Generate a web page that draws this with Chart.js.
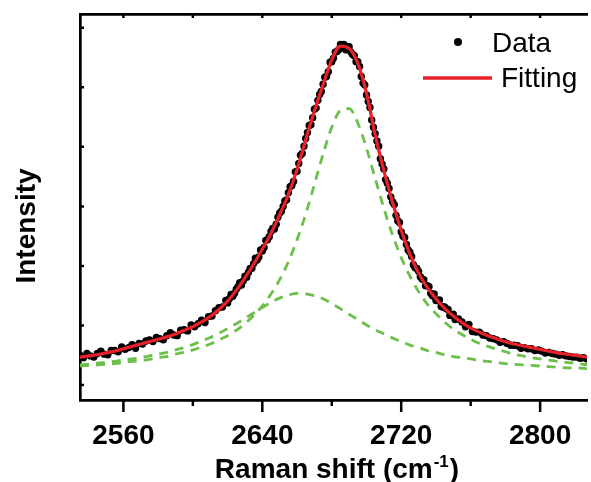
<!DOCTYPE html>
<html>
<head>
<meta charset="utf-8">
<script src="https://cdn.jsdelivr.net/npm/chart.js@4.4.1/dist/chart.umd.min.js"></script>
<style>
  html, body { margin: 0; padding: 0; background: #fff; }
  canvas { display: block; }
</style>
</head>
<body>
<canvas id="ramanChart" width="591" height="482"></canvas>
<script>
// ===============================
// DATA
// ===============================
// measured spectrum, 2D band (finer step across the peak)
const shift = [
  2535, 2537, 2539, 2541, 2543, 2545, 2547, 2549, 2551, 2553,
  2555, 2557, 2559, 2561, 2563, 2565, 2567, 2569, 2571, 2573,
  2575, 2577, 2579, 2581, 2583, 2585, 2587, 2589, 2591, 2593,
  2595, 2597, 2599, 2601, 2603, 2605, 2607, 2609, 2611, 2613,
  2615, 2617,
  2619, 2620, 2621, 2622, 2623, 2624, 2625, 2626, 2627, 2628,
  2629, 2630, 2631, 2632, 2633, 2634, 2635, 2636, 2637, 2638,
  2639, 2640, 2641, 2642, 2643, 2644, 2645, 2646, 2647, 2648,
  2649, 2650, 2651, 2652, 2653, 2654, 2655, 2656, 2657, 2658,
  2659, 2660, 2661, 2662, 2663, 2664, 2665, 2666, 2667, 2668,
  2669, 2670, 2671, 2672, 2673, 2674, 2675, 2676, 2677, 2678,
  2679, 2680, 2681, 2682, 2683, 2684, 2685, 2686, 2687, 2688,
  2689, 2690, 2691, 2692, 2693, 2694, 2695, 2696, 2697, 2698,
  2699, 2700, 2701, 2702, 2703, 2704, 2705, 2706, 2707, 2708,
  2709, 2710, 2711, 2712, 2713, 2714, 2715, 2716, 2717, 2718,
  2719, 2720, 2721, 2722, 2723, 2724, 2725, 2726, 2727, 2728,
  2729, 2730, 2731, 2732, 2733, 2734, 2735, 2736, 2737, 2738,
  2739, 2740, 2741, 2742, 2743, 2744, 2745, 2746, 2747, 2748,
  2749, 2750, 2751,
  2753, 2755, 2757, 2759, 2761, 2763, 2765, 2767, 2769, 2771,
  2773, 2775, 2777, 2779, 2781, 2783, 2785, 2787, 2789, 2791,
  2793, 2795, 2797, 2799, 2801, 2803, 2805, 2807, 2809, 2811,
  2813, 2815, 2817, 2819, 2821, 2823, 2825, 2827, 2829
];
const intensity = [
  0.50, 0.46, 0.53, 0.49, 0.47, 0.53, 0.57, 0.52, 0.51, 0.58,
  0.58, 0.56, 0.64, 0.60, 0.63, 0.68, 0.62, 0.70, 0.69, 0.74,
  0.76, 0.73, 0.80, 0.78, 0.76, 0.83, 0.88, 0.84, 0.83, 0.92,
  0.93, 0.91, 1.01, 0.98, 1.03, 1.09, 1.05, 1.15, 1.16, 1.25,
  1.30, 1.31,
  1.42, 1.38, 1.45, 1.52, 1.49, 1.54, 1.61, 1.65, 1.72, 1.68,
  1.75, 1.83, 1.81, 1.89, 1.96, 1.96, 2.04, 2.13, 2.10, 2.15,
  2.27, 2.25, 2.31, 2.43, 2.44, 2.49, 2.58, 2.63, 2.62, 2.70,
  2.82, 2.89, 2.92, 3.00, 3.09, 3.11, 3.23, 3.33, 3.35, 3.42,
  3.58, 3.59, 3.72, 3.86, 3.89, 4.01, 4.14, 4.24, 4.36, 4.37,
  4.49, 4.63, 4.65, 4.78, 4.88, 4.93, 5.05, 5.17, 5.18, 5.26,
  5.42, 5.43, 5.49, 5.59, 5.60, 5.63, 5.72, 5.70, 5.72, 5.63,
  5.68, 5.68, 5.59, 5.55, 5.53, 5.43, 5.43, 5.35, 5.18, 5.07,
  5.04, 4.87, 4.76, 4.66, 4.45, 4.33, 4.22, 4.10, 4.01, 3.80,
  3.71, 3.63, 3.45, 3.39, 3.30, 3.16, 3.08, 3.03, 2.85, 2.76,
  2.73, 2.57, 2.50, 2.48, 2.36, 2.27, 2.23, 2.16, 2.02, 1.97,
  1.96, 1.91, 1.82, 1.78, 1.77, 1.67, 1.67, 1.65, 1.54, 1.50,
  1.53, 1.42, 1.42, 1.43, 1.32, 1.31, 1.31, 1.28, 1.27, 1.17,
  1.18, 1.19, 1.10,
  1.11, 1.06, 0.98, 1.02, 0.90, 0.89, 0.89, 0.84, 0.83, 0.79,
  0.78, 0.76, 0.72, 0.73, 0.70, 0.67, 0.67, 0.66, 0.62, 0.63,
  0.61, 0.61, 0.58, 0.59, 0.57, 0.54, 0.55, 0.53, 0.52, 0.50,
  0.51, 0.49, 0.48, 0.47, 0.47, 0.45, 0.46, 0.44, 0.44
];

// fitted curves (total + two Lorentzian components)
const fitX = [
  2535, 2540, 2545, 2550, 2555, 2560, 2565, 2570, 2575, 2580,
  2585, 2590, 2595, 2600, 2605, 2610, 2615, 2620, 2625, 2630,
  2635, 2640, 2645, 2650, 2655, 2660, 2665, 2670, 2675, 2680,
  2685, 2690, 2695, 2700, 2705, 2710, 2715, 2720, 2725, 2730,
  2735, 2740, 2745, 2750, 2755, 2760, 2765, 2770, 2775, 2780,
  2785, 2790, 2795, 2800, 2805, 2810, 2815, 2820, 2825, 2830
];
const fitTotal = [
  0.47, 0.49, 0.51, 0.54, 0.57, 0.61, 0.65, 0.69, 0.73, 0.77,
  0.81, 0.86, 0.92, 0.98, 1.06, 1.15, 1.27, 1.41, 1.59, 1.80,
  2.03, 2.28, 2.55, 2.86, 3.20, 3.62, 4.12, 4.60, 5.04, 5.46,
  5.69, 5.65, 5.40, 4.90, 4.20, 3.60, 3.07, 2.60, 2.20, 1.88,
  1.64, 1.45, 1.29, 1.16, 1.05, 0.96, 0.89, 0.83, 0.78, 0.73,
  0.69, 0.66, 0.63, 0.60, 0.57, 0.54, 0.52, 0.50, 0.48, 0.46
];
const fitPeak1 = [
  0.32, 0.33, 0.34, 0.35, 0.36, 0.38, 0.40, 0.41, 0.43, 0.46,
  0.48, 0.52, 0.55, 0.59, 0.64, 0.69, 0.76, 0.83, 0.92, 1.03,
  1.17, 1.33, 1.53, 1.77, 2.07, 2.44, 2.87, 3.37, 3.88, 4.33,
  4.61, 4.64, 4.40, 3.98, 3.47, 2.97, 2.52, 2.14, 1.83, 1.57,
  1.36, 1.20, 1.06, 0.94, 0.85, 0.77, 0.70, 0.65, 0.60, 0.56,
  0.52, 0.49, 0.46, 0.44, 0.42, 0.40, 0.38, 0.37, 0.35, 0.34
];
const fitPeak2 = [
  0.34, 0.35, 0.37, 0.38, 0.40, 0.42, 0.44, 0.46, 0.49, 0.52,
  0.55, 0.59, 0.63, 0.68, 0.74, 0.80, 0.87, 0.95, 1.03, 1.12,
  1.21, 1.30, 1.39, 1.46, 1.51, 1.54, 1.53, 1.50, 1.45, 1.37,
  1.28, 1.19, 1.10, 1.01, 0.93, 0.86, 0.79, 0.73, 0.67, 0.63,
  0.58, 0.55, 0.51, 0.48, 0.46, 0.44, 0.41, 0.40, 0.38, 0.36,
  0.35, 0.34, 0.33, 0.32, 0.31, 0.30, 0.29, 0.29, 0.28, 0.27
];

const xTicks = [2560, 2600, 2640, 2680, 2720, 2760, 2800];
const xLabels = [2560, 2640, 2720, 2800];
const yTicks = [0, 1, 2, 3, 4, 5, 6];

// ===============================
// STYLE
// ===============================
const FONT = "'Liberation Sans', Arial, Helvetica, sans-serif";
const RED = '#e8202a';
const GREEN = '#6cc04a';
const AXIS_W = 2.7;

function points(xs, ys) {
  return xs.map((x, i) => ({ x, y: ys[i] }));
}

// ===============================
// PLUGINS
// ===============================
// tick marks: bottom outward (long major / short minor), top and left inward
const frameTicks = {
  id: 'frameTicks',
  afterDraw(chart) {
    const { ctx, chartArea: a, scales: { x, y } } = chart;
    ctx.save();
    ctx.strokeStyle = '#000';
    ctx.lineWidth = 2.5;
    ctx.beginPath();
    xTicks.forEach(v => {
      const px = x.getPixelForValue(v);
      const len = xLabels.includes(v) ? 12 : 6;
      ctx.moveTo(px, a.bottom);
      ctx.lineTo(px, a.bottom + len);
      ctx.moveTo(px, a.top);
      ctx.lineTo(px, a.top + 4);
    });
    yTicks.forEach(v => {
      const py = y.getPixelForValue(v);
      ctx.moveTo(a.left, py);
      ctx.lineTo(a.left + 4, py);
    });
    ctx.stroke();
    ctx.restore();
  }
};

// axis titles and the legend box
const annotations = {
  id: 'annotations',
  afterDraw(chart) {
    const { ctx } = chart;
    ctx.save();
    ctx.fillStyle = '#000';

    // y title
    ctx.save();
    ctx.translate(35, 226);
    ctx.rotate(-Math.PI / 2);
    ctx.font = `bold 28px ${FONT}`;
    ctx.textAlign = 'center';
    ctx.textBaseline = 'alphabetic';
    ctx.fillText('Intensity', 0, 0);
    ctx.restore();

    // x title with superscript
    const main = 'Raman shift (cm';
    const sup = '-1';
    const tail = ')';
    ctx.textBaseline = 'alphabetic';
    ctx.font = `bold 28px ${FONT}`;
    const wMain = ctx.measureText(main).width;
    const wTail = ctx.measureText(tail).width;
    ctx.font = `bold 17px ${FONT}`;
    const wSup = ctx.measureText(sup).width;
    const x0 = 337 - (wMain + wSup + wTail + 2) / 2;
    ctx.font = `bold 28px ${FONT}`;
    ctx.fillText(main, x0, 478);
    ctx.font = `bold 17px ${FONT}`;
    ctx.fillText(sup, x0 + wMain + 1, 467);
    ctx.font = `bold 28px ${FONT}`;
    ctx.fillText(tail, x0 + wMain + wSup + 2, 478);

    // legend
    const dataSet = chart.data.datasets[3];
    const fitSet = chart.data.datasets[2];
    ctx.font = `28px ${FONT}`;
    ctx.fillStyle = dataSet.backgroundColor;
    ctx.beginPath();
    ctx.arc(458, 42, 4, 0, Math.PI * 2);
    ctx.fill();
    ctx.fillStyle = '#000';
    ctx.fillText(dataSet.label, 492, 52);

    ctx.strokeStyle = fitSet.borderColor;
    ctx.lineWidth = 3.5;
    ctx.beginPath();
    ctx.moveTo(423, 78);
    ctx.lineTo(492, 78);
    ctx.stroke();
    ctx.fillText(fitSet.label, 501, 87);
    ctx.restore();
  }
};

// ===============================
// CHART
// ===============================
const border = { display: true, color: '#000', width: AXIS_W };
const noGrid = { display: false, drawTicks: false };

const component = (label, values) => ({
  label,
  data: points(fitX, values),
  showLine: true,
  borderColor: GREEN,
  borderWidth: 2.8,
  borderDash: [9, 7],
  pointRadius: 0,
  cubicInterpolationMode: 'monotone'
});

new Chart(document.getElementById('ramanChart'), {
  type: 'scatter',
  data: {
    datasets: [
      component('Peak 1', fitPeak1),
      component('Peak 2', fitPeak2),
      {
        label: 'Fitting',
        data: points(fitX, fitTotal),
        showLine: true,
        borderColor: RED,
        borderWidth: 3.2,
        pointRadius: 0,
        cubicInterpolationMode: 'monotone'
      },
      {
        label: 'Data',
        data: points(shift, intensity),
        backgroundColor: '#000',
        borderWidth: 0,
        pointRadius: 3.7
      }
    ]
  },
  options: {
    responsive: false,
    animation: false,
    layout: { padding: 0 },
    plugins: {
      legend: { display: false },
      tooltip: { enabled: false }
    },
    scales: {
      x: {
        type: 'linear',
        position: 'bottom',
        min: 2535,
        max: 2827,
        afterBuildTicks: s => { s.ticks = xTicks.map(v => ({ value: v })); },
        afterFit: s => { s.height = 82; },
        grid: noGrid,
        border,
        ticks: {
          color: '#000',
          font: { family: FONT, size: 28, weight: 'bold' },
          padding: 19,
          maxRotation: 0,
          autoSkip: false,
          callback: v => (xLabels.includes(v) ? String(v) : '')
        }
      },
      xTop: {
        axis: 'x',
        type: 'linear',
        position: 'top',
        min: 2535,
        max: 2827,
        afterFit: s => { s.height = 14; },
        grid: noGrid,
        border,
        ticks: { display: false }
      },
      y: {
        type: 'linear',
        min: -0.25,
        max: 6.23,
        afterBuildTicks: s => { s.ticks = yTicks.map(v => ({ value: v })); },
        afterFit: s => { s.width = 80; },
        grid: noGrid,
        border,
        ticks: { display: false }
      }
    }
  },
  plugins: [frameTicks, annotations]
});
</script>
</body>
</html>
